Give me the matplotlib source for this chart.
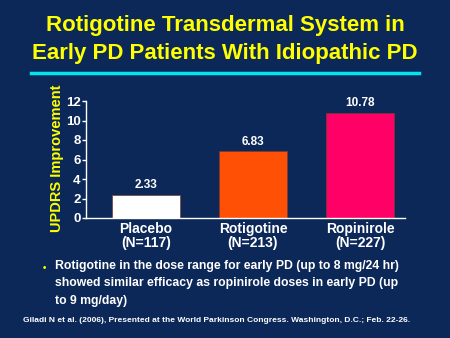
import matplotlib
matplotlib.use('Agg')
import matplotlib.pyplot as plt

# data
categories = ['Placebo\n(N=117)', 'Rotigotine\n(N=213)', 'Ropinirole\n(N=227)']
values = [2.33, 6.83, 10.78]
value_labels = ['2.33', '6.83', '10.78']
bar_colors = ['#ffffff', '#ff5005', '#ff0066']
yticks = [0, 2, 4, 6, 8, 10, 12]

bg = '#0c2858'
yellow = '#ffff00'

plt.rcParams['font.family'] = ['Liberation Sans', 'DejaVu Sans']
plt.rcParams['font.weight'] = 'bold'

fig = plt.figure(figsize=(4.5, 3.38), dpi=100, facecolor=bg)

# title
fig.text(0.5, 1 - 26 / 338, 'Rotigotine Transdermal System in', color=yellow,
         fontsize=16, fontweight='bold', ha='center', va='center')
fig.text(0.5, 1 - 54 / 338, 'Early PD Patients With Idiopathic PD', color=yellow,
         fontsize=16, fontweight='bold', ha='center', va='center')
fig.add_artist(plt.Line2D([31 / 450, 419 / 450], [1 - 73 / 338, 1 - 73 / 338],
                          color='#00e5ee', linewidth=2.5))

ax = fig.add_axes([86 / 450, 1 - 218 / 338, (405 - 86) / 450, (218 - 101) / 338])
ax.set_facecolor(bg)
x = range(len(values))
ax.bar(x, values, width=0.64, color=bar_colors, edgecolor='#7a3a30', linewidth=0.5)
for i, v in enumerate(values):
    ax.text(i, v + 0.4, value_labels[i], color='white', fontsize=8.5,
            fontweight='bold', ha='center', va='bottom')

ax.set_xlim(-0.56, 2.42)
ax.set_ylim(0, 12)
ax.set_yticks(yticks)
ax.set_yticklabels([str(t) for t in yticks], color='white', fontsize=9.5, fontweight='bold')
ax.set_xticks(list(x))
ax.set_xticklabels(categories, color='white', fontsize=10, fontweight='bold',
                   linespacing=1.0)
ax.tick_params(axis='x', length=0, pad=3)
ax.tick_params(axis='y', colors='white', length=3, width=1, direction='out', pad=1)
for side in ['top', 'right']:
    ax.spines[side].set_visible(False)
for side in ['left', 'bottom']:
    ax.spines[side].set_color('white')
    ax.spines[side].set_linewidth(1)
ax.set_ylabel('UPDRS Improvement', color=yellow, fontsize=10.5, fontweight='bold')
ax.yaxis.set_label_coords(-0.07, 0.51)

# bullet text
fig.text(44 / 450, 1 - 268 / 338, '\u2022', color=yellow, fontsize=7,
         ha='center', va='center')
bullet = ('Rotigotine in the dose range for early PD (up to 8 mg/24 hr)\n'
          'showed similar efficacy as ropinirole doses in early PD (up\n'
          'to 9 mg/day)')
fig.text(55 / 450, 1 - 260 / 338, bullet, color='white', fontsize=8.8,
         fontweight='bold', ha='left', va='top', linespacing=1.6)

fig.text(23 / 450, 1 - 321 / 338,
         'Giladi N et al. (2006), Presented at the World Parkinson Congress. Washington, D.C.; Feb. 22-26.',
         color='white', fontsize=6, fontweight='bold', ha='left', va='center')

fig.savefig('out.png', dpi=100, facecolor=bg)
